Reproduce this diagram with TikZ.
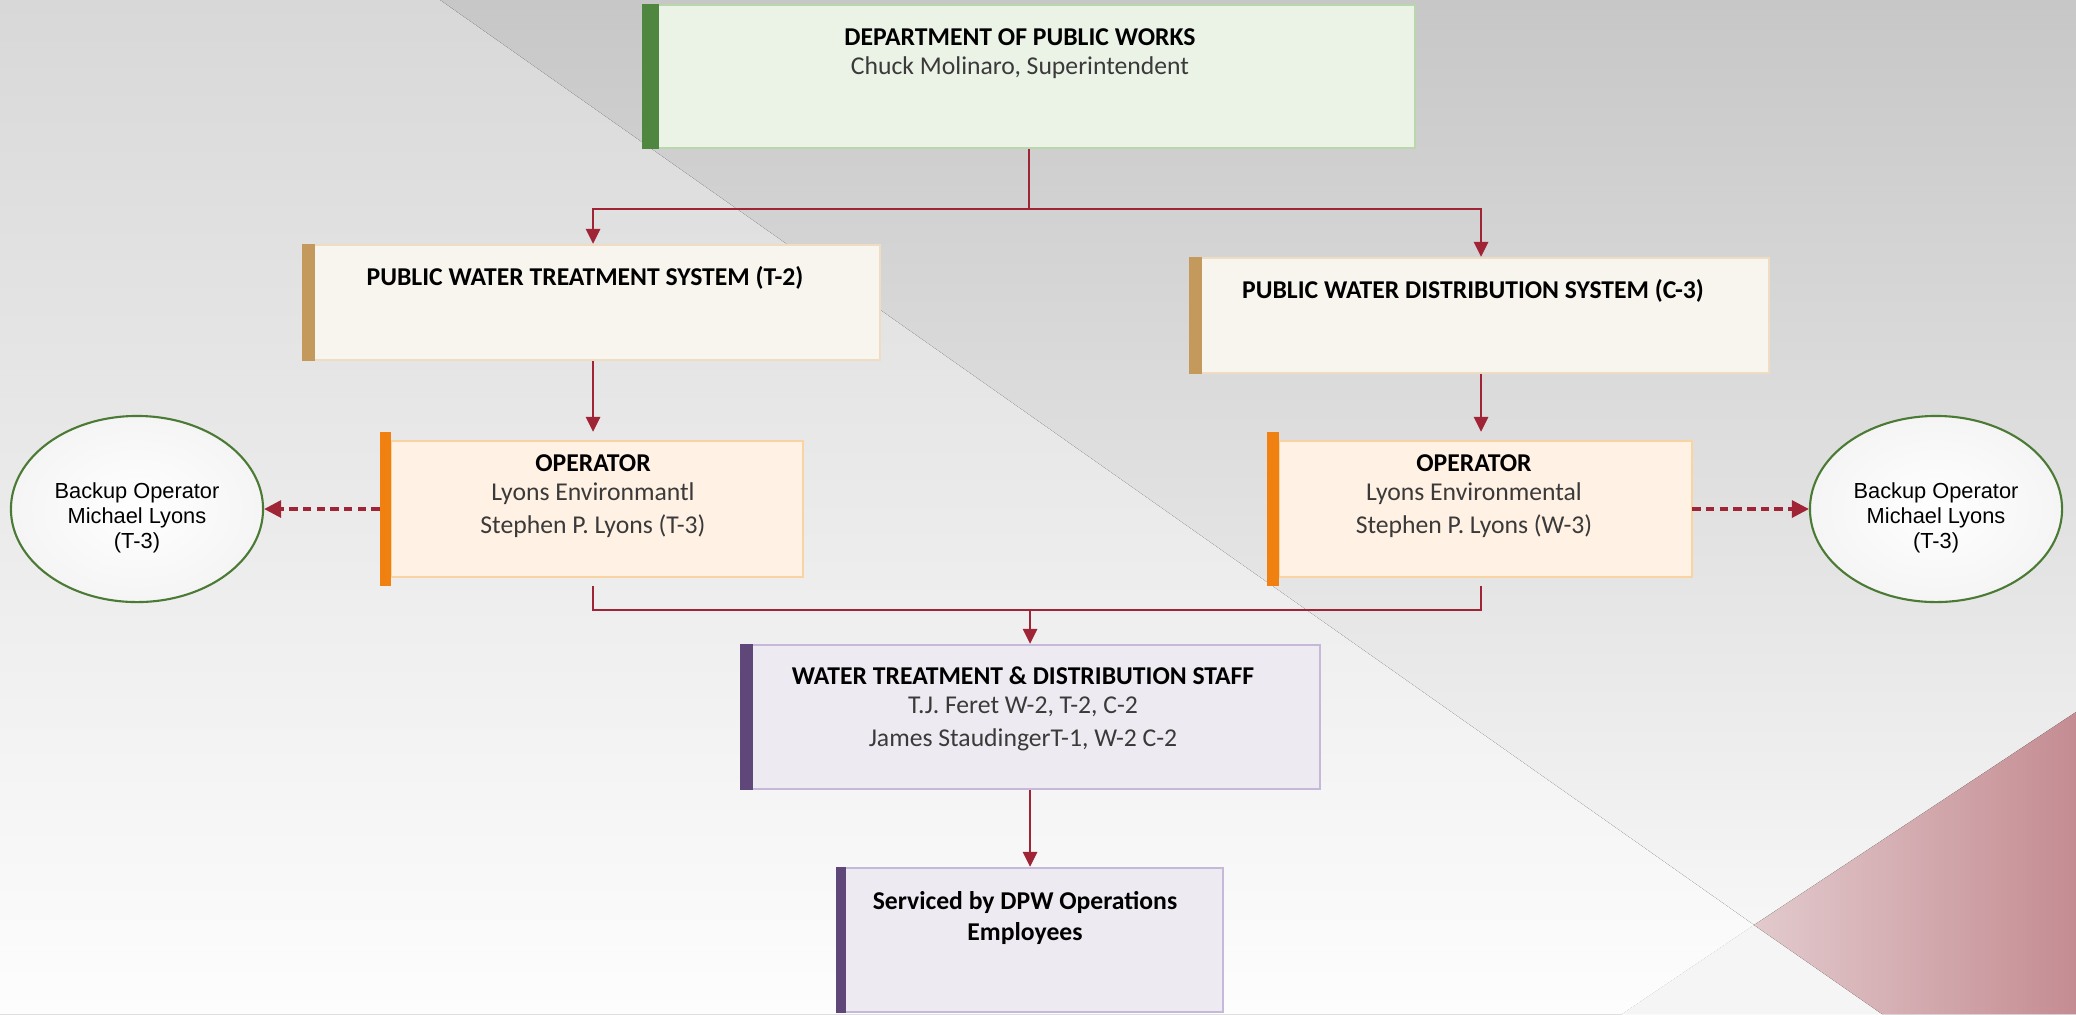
\documentclass[tikz,border=0pt]{standalone}
\usepackage{fontspec}
\setmainfont{Carlito}
\newfontfamily\arialf{Liberation Sans}
\usetikzlibrary{arrows.meta,shapes.geometric}
\definecolor{bgtopR}{HTML}{C7C7C7}
\definecolor{bgbotR}{HTML}{FBFBFB}
\definecolor{bgtopL}{HTML}{D8D8D8}
\definecolor{bgbotL}{HTML}{FDFDFD}
\definecolor{pinkL}{HTML}{E2CACD}
\definecolor{pinkR}{HTML}{C48C92}
\definecolor{dpwfill}{HTML}{EBF2E6}
\definecolor{dpwline}{HTML}{B9D6AC}
\definecolor{dpwbar}{HTML}{4F8640}
\definecolor{pwfill}{HTML}{F8F5EE}
\definecolor{pwline}{HTML}{EEDCC3}
\definecolor{pwbar}{HTML}{C49A5C}
\definecolor{opfill}{HTML}{FFF1E3}
\definecolor{opline}{HTML}{FAD3A3}
\definecolor{opbar}{HTML}{F08010}
\definecolor{stfill}{HTML}{EEEAF1}
\definecolor{stline}{HTML}{C6B8D8}
\definecolor{stbar}{HTML}{5F4879}
\definecolor{connc}{HTML}{9E2436}
\definecolor{ellline}{HTML}{4B7A35}
\definecolor{txtgray}{HTML}{3A3A3A}
\tikzset{
  plainbox/.style={rectangle, inner sep=0pt, line width=0.6pt},
  conn/.style={draw=connc, line width=0.8pt},
  arr/.style={conn, -{Triangle[width=1.4mm,length=1.5mm]}},
  darr/.style={conn, line width=0.9pt, dash pattern=on 2.4pt off 1.5pt, -{Triangle[width=1.7mm,length=1.7mm]}},
  boxtext/.style={inner sep=0pt, align=center, font=\fontsize{7.3}{8.3}\selectfont, text=txtgray},
  ellshape/.style={ellipse, draw=ellline, line width=0.6pt, inner color=white, outer color=black!4,
     minimum width=2.52cm, minimum height=1.86cm, inner sep=0pt},
  elltext/.style={inner sep=0pt, align=center, font=\arialf\fontsize{6.2}{7.1}\selectfont, text=black},
}
\begin{document}
\begin{tikzpicture}[x=0.01cm,y=-0.01cm]
\useasboundingbox (0,0) rectangle (2076,1014);
% background
\fill[top color=bgtopR, bottom color=bgbotR] (0,0) rectangle (2076,1014);
\fill[top color=bgtopL, bottom color=bgbotL] (0,0) -- (440,0) -- (1754,925) -- (1622,1014) -- (0,1014) -- cycle;
\fill[black!4] (1754,925) -- (1622,1014) -- (1882,1014) -- cycle;
\fill[left color=pinkL, right color=pinkR] (2076,712) -- (1754,925) -- (1882,1014) -- (2076,1014) -- cycle;

% boxes
\node[plainbox, draw=dpwline, fill=dpwfill, minimum width=7.72cm, minimum height=1.43cm] (dpw) at (1029,76.5) {};
\fill[dpwbar] (dpw.north west) rectangle ([xshift=0.17cm]dpw.south west);
\node[boxtext] (dpwT) at (1020,54) {\textcolor{black}{\textbf{DEPARTMENT OF PUBLIC WORKS}}\\Chuck Molinaro, Superintendent};

\node[plainbox, draw=pwline, fill=pwfill, minimum width=5.77cm, minimum height=1.15cm] (pwts) at (591.5,302.5) {};
\fill[pwbar] (pwts.north west) rectangle ([xshift=0.13cm]pwts.south west);
\node[boxtext, text=black, font=\bfseries\fontsize{7.3}{8.3}\selectfont] (pwtsT) at (585,278) {PUBLIC WATER TREATMENT SYSTEM (T-2)};

\node[plainbox, draw=pwline, fill=pwfill, minimum width=5.79cm, minimum height=1.15cm] (pwds) at (1479.5,315.5) {};
\fill[pwbar] (pwds.north west) rectangle ([xshift=0.13cm]pwds.south west);
\node[boxtext, text=black, font=\bfseries\fontsize{7.3}{8.3}\selectfont] (pwdsT) at (1473,291) {PUBLIC WATER DISTRIBUTION SYSTEM (C-3)};

\node[plainbox, minimum width=4.21cm, minimum height=1.52cm] (opL) at (591.5,509) {};
\filldraw[draw=opline, fill=opfill, line width=0.6pt] ([xshift=0.11cm,yshift=-0.09cm]opL.north west) rectangle ([yshift=0.09cm]opL.south east);
\fill[opbar] (opL.north west) rectangle ([xshift=0.11cm]opL.south west);
\node[boxtext] (opLT) at (593,496) {\textcolor{black}{\textbf{OPERATOR}}\\Lyons Environmantl\\[1pt]Stephen P. Lyons (T-3)};

\node[plainbox, minimum width=4.23cm, minimum height=1.52cm] (opR) at (1479.5,509) {};
\filldraw[draw=opline, fill=opfill, line width=0.6pt] ([xshift=0.12cm,yshift=-0.09cm]opR.north west) rectangle ([yshift=0.09cm]opR.south east);
\fill[opbar] (opR.north west) rectangle ([xshift=0.12cm]opR.south west);
\node[boxtext] (opRT) at (1474,496) {\textcolor{black}{\textbf{OPERATOR}}\\Lyons Environmental\\[1pt]Stephen P. Lyons (W-3)};

\node[plainbox, draw=stline, fill=stfill, minimum width=5.79cm, minimum height=1.44cm] (staff) at (1030.5,717) {};
\fill[stbar] (staff.north west) rectangle ([xshift=0.13cm]staff.south west);
\node[boxtext] (staffT) at (1023,709) {\textcolor{black}{\textbf{WATER TREATMENT \& DISTRIBUTION STAFF}}\\T.J. Feret W-2, T-2, C-2\\[1pt]James StaudingerT-1, W-2 C-2};

\node[plainbox, draw=stline, fill=stfill, minimum width=3.86cm, minimum height=1.44cm] (svc) at (1030,940) {};
\fill[stbar] (svc.north west) rectangle ([xshift=0.10cm]svc.south west);
\node[boxtext, text=black, font=\bfseries\fontsize{7.3}{8.9}\selectfont] (svcT) at (1025,918) {Serviced by DPW Operations\\Employees};

% ellipses
\node[ellshape] (ellL) at (137,509) {};
\node[elltext] (ellLT) at (137,518) {Backup Operator\\Michael Lyons\\(T-3)};
\node[ellshape] (ellR) at (1936,509) {};
\node[elltext] (ellRT) at (1936,518) {Backup Operator\\Michael Lyons\\(T-3)};

% connectors
\coordinate (j1) at (1030,209);
\coordinate (colL) at (593,209);
\coordinate (colR) at (1481,209);
\coordinate (jb) at (1030,610);
\draw[conn] (dpw.south) -- (dpw.south |- j1);
\draw[arr] (j1) -| (pwts.north -| colL);
\draw[arr] (j1) -| (pwds.north -| colR);
\draw[arr] (pwts.south -| colL) -- (opL.north -| colL);
\draw[arr] (pwds.south -| colR) -- (opR.north -| colR);
\draw[conn] (opL.south -| colL) |- (jb);
\draw[conn] (opR.south -| colR) |- (jb);
\draw[arr] (jb) -- (staff.north -| jb);
\draw[arr] (staff.south -| jb) -- (svc.north -| jb);
\draw[darr] (opL.west) -- (ellL.east);
\draw[darr] (opR.east) -- (ellR.west);
\end{tikzpicture}
\end{document}
